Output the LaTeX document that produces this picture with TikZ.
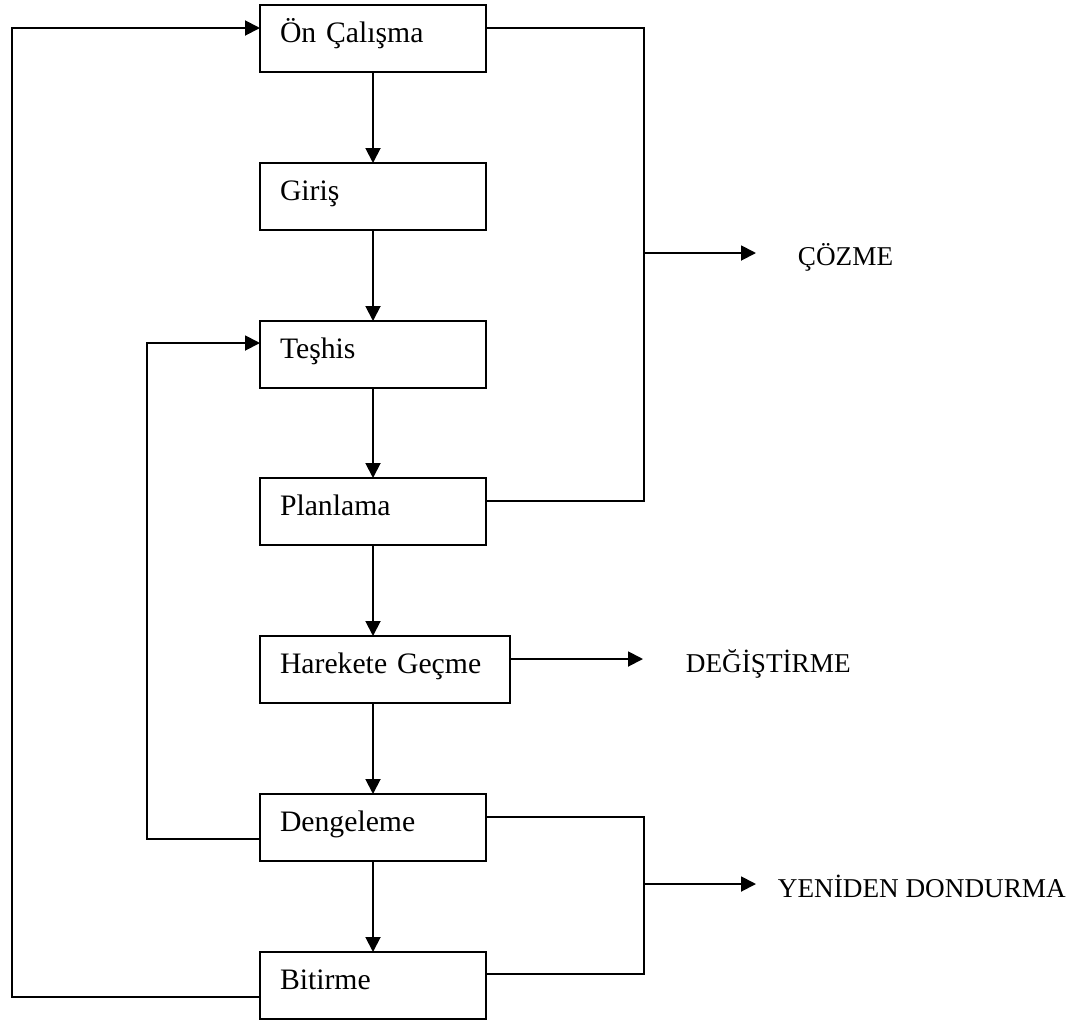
\documentclass[tikz,border=0pt]{standalone}
\usepackage{fontspec}
\setmainfont{Liberation Serif}
\usetikzlibrary{arrows.meta,calc}

\begin{document}
\begin{tikzpicture}[x=1pt,y=-1pt,line width=1.9pt,
  stage/.style={draw, rectangle, anchor=north west, outer sep=0pt,
    inner sep=0pt, inner xsep=20pt, text width=186pt, align=left,
    text height=37pt, text depth=30pt,
    font=\fontsize{29.7}{36}\selectfont},
  outcome/.style={anchor=base west, inner sep=0pt,
    font=\fontsize{27.2}{33}\selectfont},
  flow/.style={-{Triangle[length=15pt,width=15pt]}}]
\useasboundingbox (0,0) rectangle (1077,1021);

% stages of the process
\node[stage] (on)      at (260,5)   {Ön Çalışma};
\node[stage] (giris)   at (260,163) {Giriş};
\node[stage] (teshis)  at (260,321) {Teşhis};
\node[stage] (plan)    at (260,478) {Planlama};
\node[stage, text width=210pt] (hareket) at (260,636) {Harekete Geçme};
\node[stage] (denge)   at (260,794) {Dengeleme};
\node[stage] (bitir)   at (260,952) {Bitirme};

% outcomes
\node[outcome] (cozme)  at (797,265) {ÇÖZME};
\node[outcome] (degis)  at (685,672) {DEĞİŞTİRME};
\node[outcome] (yeni)   at (777,897) {YENİDEN DONDURMA};

% bus junctions and arrow ends
\coordinate (busA) at (644,253);
\coordinate (busB) at (644,884);
\coordinate (cozmeTip) at (756,253);
\coordinate (degisTip) at (643,659);
\coordinate (yeniTip)  at (756,884);

% main chain
\draw[flow] (on.south) -- (giris.north);
\draw[flow] (giris.south) -- (teshis.north);
\draw[flow] (teshis.south) -- (plan.north);
\draw[flow] (plan.south) -- (plan.south |- hareket.north);
\draw[flow] (hareket.south -| denge.north) -- (denge.north);
\draw[flow] (denge.south) -- (bitir.north);

% feedback loops on the left
\draw[flow] ($(bitir.north west)+(0,45)$) -- ++(-248,0) |- ($(on.north west)+(0,23)$);
\draw[flow] ($(denge.north west)+(0,45)$) -- ++(-113,0) |- ($(teshis.north west)+(0,22)$);

% branches to the outcomes
\draw ($(on.north east)+(0,23)$) -| (busA) |- ($(plan.north east)+(0,23)$);
\draw[flow] (busA) -- (cozmeTip);
\draw[flow] ($(hareket.north east)+(0,23)$) -- (degisTip);
\draw ($(denge.north east)+(0,23)$) -| (busB) |- ($(bitir.north east)+(0,22)$);
\draw[flow] (busB) -- (yeniTip);
\end{tikzpicture}
\end{document}
